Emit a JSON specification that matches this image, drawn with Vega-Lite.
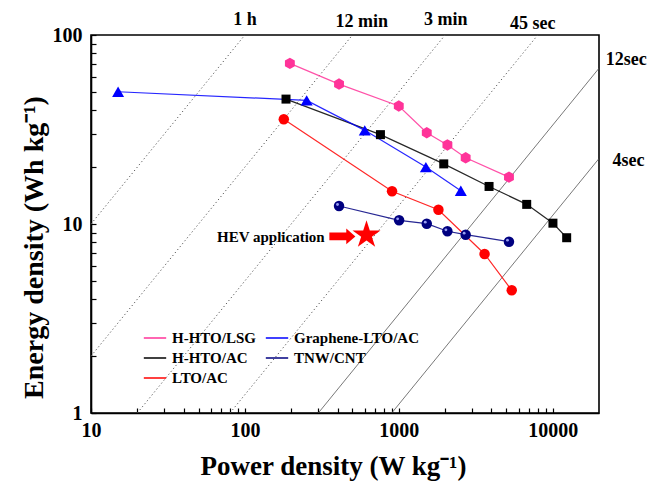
{
  "$schema": "https://vega.github.io/schema/vega-lite/v6.json",
  "width": 508,
  "height": 378,
  "autosize": {"type": "none"},
  "padding": {"left": 91, "top": 35, "right": 50, "bottom": 74},
  "background": "white",
  "config": {
    "font": "Liberation Serif",
    "view": {"stroke": "black", "strokeWidth": 1.6},
    "axis": {
      "domainColor": "black", "domainWidth": 1.6, "tickColor": "black", "tickWidth": 1.2,
      "labelFont": "Liberation Serif", "labelFontWeight": "bold", "labelFontSize": 20, "labelColor": "black",
      "titleFont": "Liberation Serif", "titleFontWeight": "bold", "titleColor": "black",
      "grid": false, "tickSize": -5
    }
  },
  "datasets": {
    "series": [
      {"series": "H-HTO/LSG", "P": 196, "E": 70.8},
      {"series": "H-HTO/LSG", "P": 409, "E": 55},
      {"series": "H-HTO/LSG", "P": 1000, "E": 42.1},
      {"series": "H-HTO/LSG", "P": 1520, "E": 30.4},
      {"series": "H-HTO/LSG", "P": 2070, "E": 26.2},
      {"series": "H-HTO/LSG", "P": 2720, "E": 22.4},
      {"series": "H-HTO/LSG", "P": 5200, "E": 17.7},
      {"series": "H-HTO/AC", "P": 185, "E": 45.8},
      {"series": "H-HTO/AC", "P": 760, "E": 29.7},
      {"series": "H-HTO/AC", "P": 1960, "E": 20.8},
      {"series": "H-HTO/AC", "P": 3860, "E": 15.8},
      {"series": "H-HTO/AC", "P": 6780, "E": 12.7},
      {"series": "H-HTO/AC", "P": 10040, "E": 10.1},
      {"series": "H-HTO/AC", "P": 12330, "E": 8.46},
      {"series": "LTO/AC", "P": 179, "E": 35.8},
      {"series": "LTO/AC", "P": 904, "E": 14.9},
      {"series": "LTO/AC", "P": 1810, "E": 11.9},
      {"series": "LTO/AC", "P": 3610, "E": 6.94},
      {"series": "LTO/AC", "P": 5420, "E": 4.46},
      {"series": "Graphene-LTO/AC", "P": 15, "E": 50.1},
      {"series": "Graphene-LTO/AC", "P": 252, "E": 45.1},
      {"series": "Graphene-LTO/AC", "P": 601, "E": 31.3},
      {"series": "Graphene-LTO/AC", "P": 1500, "E": 20.0},
      {"series": "Graphene-LTO/AC", "P": 2530, "E": 15.0},
      {"series": "TNW/CNT", "P": 409, "E": 12.45},
      {"series": "TNW/CNT", "P": 1005, "E": 10.46},
      {"series": "TNW/CNT", "P": 1520, "E": 10.04},
      {"series": "TNW/CNT", "P": 2070, "E": 9.15},
      {"series": "TNW/CNT", "P": 2720, "E": 8.78},
      {"series": "TNW/CNT", "P": 5200, "E": 8.06}
    ],
    "isoDotted": [
      {"line": "1 h", "P": 10, "E": 10},
      {"line": "1 h", "P": 100, "E": 100},
      {"line": "12 min", "P": 10, "E": 2},
      {"line": "12 min", "P": 500, "E": 100},
      {"line": "3 min", "P": 20, "E": 1},
      {"line": "3 min", "P": 2000, "E": 100},
      {"line": "45 sec", "P": 80, "E": 1},
      {"line": "45 sec", "P": 8000, "E": 100}
    ],
    "isoSolid": [
      {"line": "12sec", "P": 300, "E": 1},
      {"line": "12sec", "P": 20000, "E": 66.7},
      {"line": "4sec", "P": 900, "E": 1},
      {"line": "4sec", "P": 20000, "E": 22.2}
    ],
    "isoTop": [
      {"label": "1 h", "P": 100, "E": 113},
      {"label": "12 min", "P": 575, "E": 110.2},
      {"label": "3 min", "P": 2018, "E": 113},
      {"label": "45 sec", "P": 7413, "E": 107.6}
    ],
    "isoRight": [
      {"label": "12sec", "P": 22100, "E": 69.4},
      {"label": "4sec", "P": 24500, "E": 20.3}
    ],
    "hevStar": [{"P": 617, "E": 8.75}],
    "hevArrow": [{"P": 430, "E": 8.6}],
    "hevText": [{"P": 330, "E": 8.03, "note": "HEV application"}]
  },
  "layer": [
    {
      "data": {"name": "isoDotted"},
      "mark": {"type": "line", "clip": true, "color": "#555555", "strokeWidth": 1, "strokeDash": [1.2, 2.6]},
      "encoding": {
        "x": {
          "field": "P", "type": "quantitative",
          "scale": {"type": "log", "domain": [10, 20000], "nice": false},
          "axis": {
            "values": [10, 20, 30, 40, 50, 60, 70, 80, 90, 100, 200, 300, 400, 500, 600, 700, 800, 900, 1000, 2000, 3000, 4000, 5000, 6000, 7000, 8000, 9000, 10000],
            "labelExpr": "(datum.value == 10 || datum.value == 100 || datum.value == 1000 || datum.value == 10000) ? format(datum.value, 'd') : ''",
            "labelPadding": 12, "labelOverlap": false, "labelFlush": false,
            "title": "Power density (W kg⁻¹)", "titleFontSize": 27,
            "titleX": 242, "titleY": 61, "titleAlign": "center", "titleBaseline": "alphabetic"
          }
        },
        "y": {
          "field": "E", "type": "quantitative",
          "scale": {"type": "log", "domain": [1, 100], "nice": false},
          "axis": {
            "values": [1, 2, 3, 4, 5, 6, 7, 8, 9, 10, 20, 30, 40, 50, 60, 70, 80, 90, 100],
            "labelExpr": "(datum.value == 1 || datum.value == 10 || datum.value == 100) ? format(datum.value, 'd') : ''",
            "labelPadding": 14, "labelOverlap": false, "labelFlush": false,
            "title": "Energy density (Wh kg⁻¹)", "titleFontSize": 28, "titleAngle": 270,
            "titleX": -49, "titleY": 212, "titleAlign": "center", "titleBaseline": "alphabetic"
          }
        },
        "detail": {"field": "line", "type": "nominal"}
      }
    },
    {
      "data": {"name": "isoSolid"},
      "mark": {"type": "line", "clip": true, "color": "#555555", "strokeWidth": 0.8},
      "encoding": {
        "x": {"field": "P", "type": "quantitative"},
        "y": {"field": "E", "type": "quantitative"},
        "detail": {"field": "line", "type": "nominal"}
      }
    },
    {
      "data": {"name": "series"},
      "mark": {"type": "line", "strokeWidth": 1.2, "opacity": 0.85},
      "encoding": {
        "x": {"field": "P", "type": "quantitative"},
        "y": {"field": "E", "type": "quantitative"},
        "color": {
          "field": "series", "type": "nominal",
          "scale": {"domain": ["H-HTO/LSG", "H-HTO/AC", "LTO/AC", "Graphene-LTO/AC", "TNW/CNT"], "range": ["#FF3399", "#000000", "#FF0000", "#0000FF", "#000080"]},
          "legend": {
            "orient": "none", "legendX": 52, "legendY": 291, "columns": 2, "title": null,
            "labelFont": "Liberation Serif", "labelFontSize": 15, "labelFontWeight": "bold", "labelColor": "black",
            "labelOffset": 5, "columnPadding": 6, "rowPadding": 0, "symbolType": "stroke", "symbolSize": 500, "symbolStrokeWidth": 1.5, "symbolOpacity": 1
          }
        }
      }
    },
    {
      "data": {"name": "series"},
      "transform": [{"filter": "datum.series === 'H-HTO/LSG'"}],
      "mark": {"type": "point", "filled": true, "opacity": 1, "size": 130, "shape": "M0,-1L0.866,-0.5L0.866,0.5L0,1L-0.866,0.5L-0.866,-0.5Z"},
      "encoding": {
        "x": {"field": "P", "type": "quantitative"},
        "y": {"field": "E", "type": "quantitative"},
        "color": {"field": "series", "type": "nominal", "legend": null}
      }
    },
    {
      "data": {"name": "series"},
      "transform": [{"filter": "datum.series === 'H-HTO/AC'"}],
      "mark": {"type": "point", "filled": true, "opacity": 1, "size": 81, "shape": "square"},
      "encoding": {
        "x": {"field": "P", "type": "quantitative"},
        "y": {"field": "E", "type": "quantitative"},
        "color": {"field": "series", "type": "nominal", "legend": null}
      }
    },
    {
      "data": {"name": "series"},
      "transform": [{"filter": "datum.series === 'LTO/AC' || datum.series === 'TNW/CNT'"}],
      "mark": {"type": "point", "filled": true, "opacity": 1, "size": 110, "shape": "circle"},
      "encoding": {
        "x": {"field": "P", "type": "quantitative"},
        "y": {"field": "E", "type": "quantitative"},
        "color": {"field": "series", "type": "nominal", "legend": null}
      }
    },
    {
      "data": {"name": "series"},
      "transform": [{"filter": "datum.series === 'Graphene-LTO/AC'"}],
      "mark": {"type": "point", "filled": true, "opacity": 1, "size": 144, "shape": "triangle-up"},
      "encoding": {
        "x": {"field": "P", "type": "quantitative"},
        "y": {"field": "E", "type": "quantitative"},
        "color": {"field": "series", "type": "nominal", "legend": null}
      }
    },
    {
      "data": {"name": "series"},
      "transform": [{"filter": "datum.series === 'TNW/CNT'"}],
      "mark": {"type": "point", "filled": true, "color": "#aab0ff", "size": 8, "opacity": 0.9, "xOffset": -1.5, "yOffset": -1.5},
      "encoding": {
        "x": {"field": "P", "type": "quantitative"},
        "y": {"field": "E", "type": "quantitative"}
      }
    },
    {
      "data": {"name": "isoTop"},
      "mark": {"type": "text", "font": "Liberation Serif", "fontWeight": "bold", "fontSize": 18, "align": "center", "baseline": "alphabetic", "color": "black"},
      "encoding": {
        "x": {"field": "P", "type": "quantitative"},
        "y": {"field": "E", "type": "quantitative"},
        "text": {"field": "label", "type": "nominal"}
      }
    },
    {
      "data": {"name": "isoRight"},
      "mark": {"type": "text", "font": "Liberation Serif", "fontWeight": "bold", "fontSize": 18, "align": "left", "baseline": "alphabetic", "color": "black"},
      "encoding": {
        "x": {"field": "P", "type": "quantitative"},
        "y": {"field": "E", "type": "quantitative"},
        "text": {"field": "label", "type": "nominal"}
      }
    },
    {
      "data": {"name": "hevStar"},
      "mark": {"type": "point", "shape": "M0,-1L0.2245,-0.309L0.951,-0.309L0.363,0.118L0.588,0.809L0,0.382L-0.588,0.809L-0.363,0.118L-0.951,-0.309L-0.2245,-0.309Z", "filled": true, "color": "#FF0000", "size": 866, "opacity": 1},
      "encoding": {
        "x": {"field": "P", "type": "quantitative"},
        "y": {"field": "E", "type": "quantitative"}
      }
    },
    {
      "data": {"name": "hevArrow"},
      "mark": {"type": "point", "shape": "M-1,-0.3L0.3,-0.3L0.3,-0.6L1,0L0.3,0.6L0.3,0.3L-1,0.3Z", "filled": true, "color": "#FF0000", "size": 676, "opacity": 1},
      "encoding": {
        "x": {"field": "P", "type": "quantitative"},
        "y": {"field": "E", "type": "quantitative"}
      }
    },
    {
      "data": {"name": "hevText"},
      "mark": {"type": "text", "font": "Liberation Serif", "fontWeight": "bold", "fontSize": 15, "align": "right", "baseline": "alphabetic", "color": "black"},
      "encoding": {
        "x": {"field": "P", "type": "quantitative"},
        "y": {"field": "E", "type": "quantitative"},
        "text": {"field": "note", "type": "nominal"}
      }
    }
  ]
}
